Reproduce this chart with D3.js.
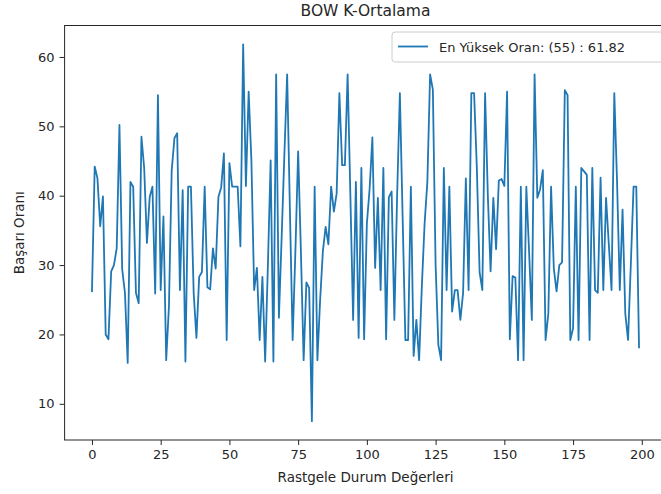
<!DOCTYPE html>
<html>
<head>
<meta charset="utf-8">
<style>
  body { margin: 0; background: #fff; overflow: hidden; }
  text { font-family: "DejaVu Sans", sans-serif; fill: #262626; }
  .axis path, .axis line { stroke: #262626; }
</style>
</head>
<body>
<div id="my_dataviz"></div>
<script src="https://cdn.jsdelivr.net/npm/d3@7/dist/d3.min.js"></script>
<script>

// texts
var title = "BOW K-Ortalama";
var xLabel = "Rastgele Durum Değerleri";
var yLabel = "Başarı Oranı";
var legendLabel = "En Yüksek Oran: (55) : 61.82";

// tick labels
var xTicks = [0, 25, 50, 75, 100, 125, 150, 175, 200];
var yTicks = [10, 20, 30, 40, 50, 60];

// success rate for each random state 0..199
var rates = [
  26.1, 44.2, 42.5, 35.6, 39.9, 20.0, 19.3, 29.1, 30.0, 32.4,
  50.2, 29.4, 26.0, 15.9, 42.0, 41.3, 26.0, 24.5, 48.5, 44.0,
  33.2, 39.8, 41.3, 25.9, 54.5, 26.4, 37.0, 16.3, 24.0, 43.6,
  48.3, 49.0, 26.4, 40.8, 16.1, 41.3, 41.3, 26.0, 19.5, 28.3,
  29.0, 41.3, 26.8, 26.5, 32.4, 29.5, 39.8, 41.2, 46.1, 19.2,
  44.7, 41.3, 41.3, 41.3, 32.7, 61.82, 41.4, 55.0, 45.0, 26.4,
  29.6, 19.2, 28.3, 16.1, 30.0, 45.1, 16.1, 57.5, 22.4, 34.0,
  46.0, 57.5, 38.0, 19.2, 32.0, 46.4, 32.0, 16.3, 27.5, 26.7,
  7.5, 41.3, 16.3, 25.0, 32.0, 35.5, 33.0, 41.3, 37.7, 40.3,
  54.8, 44.4, 44.4, 57.5, 40.0, 22.1, 42.0, 19.5, 44.0, 19.3,
  36.0, 41.0, 48.4, 29.6, 39.7, 26.4, 44.0, 19.3, 39.8, 40.6,
  22.1, 40.0, 54.8, 37.0, 19.2, 19.2, 41.3, 16.9, 22.1, 16.3,
  27.0, 36.0, 42.0, 57.5, 55.3, 30.0, 18.5, 16.3, 44.0, 26.4,
  41.3, 23.3, 26.4, 26.4, 22.1, 26.0, 42.5, 26.4, 54.8, 54.8,
  44.0, 29.0, 26.4, 54.8, 40.0, 29.1, 39.7, 32.3, 42.2, 42.4,
  41.4, 55.0, 19.3, 28.4, 28.2, 16.3, 41.3, 16.3, 41.3, 32.0,
  22.1, 57.5, 39.7, 40.9, 43.7, 19.2, 23.0, 41.3, 29.5, 26.2,
  30.0, 30.4, 55.2, 54.5, 19.2, 20.9, 41.3, 19.2, 44.0, 43.5,
  43.0, 19.2, 44.0, 26.4, 26.0, 42.6, 26.4, 39.7, 33.0, 26.4,
  54.8, 42.0, 26.4, 38.0, 23.0, 19.2, 30.0, 41.3, 41.3, 18.0
];

// size of the picture and of the plot area
var W = 661, H = 494;
var margin = {top: 25.5, right: -5.4, bottom: 54, left: 64.6},
    width = W - margin.left - margin.right,
    height = H - margin.top - margin.bottom;

var svg = d3.select("#my_dataviz")
  .append("svg")
    .attr("width", W)
    .attr("height", H);

var g = svg.append("g")
    .attr("transform", "translate(" + margin.left + "," + margin.top + ")");

// matplotlib style 5% padding around the data
var n = rates.length;
var xPad = (n - 1) * 0.05;
var yMin = d3.min(rates), yMax = d3.max(rates);
var yPad = (yMax - yMin) * 0.05;

var x = d3.scaleLinear()
  .domain([-xPad, n - 1 + xPad])
  .range([0, width]);

var y = d3.scaleLinear()
  .domain([yMin - yPad, yMax + yPad])
  .range([height, 0]);

// X axis
var xAxis = g.append("g")
  .attr("class", "axis")
  .attr("transform", "translate(0," + height + ")")
  .call(d3.axisBottom(x).tickValues(xTicks).tickSize(5).tickPadding(5));
xAxis.select(".domain").remove();
xAxis.selectAll("text").style("font-size", "13px").attr("fill", "#262626");

// Y axis
var yAxis = g.append("g")
  .attr("class", "axis")
  .call(d3.axisLeft(y).tickValues(yTicks).tickSize(5).tickPadding(5));
yAxis.select(".domain").remove();
yAxis.selectAll("text").style("font-size", "13px").attr("fill", "#262626");

// frame
g.append("rect")
  .attr("x", 0).attr("y", 0)
  .attr("width", width).attr("height", height)
  .attr("fill", "none")
  .attr("stroke", "#262626")
  .attr("stroke-width", 1);

// the line
var line = d3.line()
  .x(function(d, i) { return x(i); })
  .y(function(d) { return y(d); });

g.append("path")
  .datum(rates)
  .attr("fill", "none")
  .attr("stroke", "#1f77b4")
  .attr("stroke-width", 1.8)
  .attr("stroke-linejoin", "round")
  .attr("d", line);

// title and labels
svg.append("text")
  .attr("x", margin.left + width / 2)
  .attr("y", 16)
  .attr("text-anchor", "middle")
  .style("font-size", "15.5px")
  .text(title);

svg.append("text")
  .attr("x", margin.left + width / 2)
  .attr("y", 482)
  .attr("text-anchor", "middle")
  .style("font-size", "13.5px")
  .text(xLabel);

svg.append("text")
  .attr("transform", "translate(24," + (margin.top + height / 2) + ") rotate(-90)")
  .attr("text-anchor", "middle")
  .style("font-size", "13.5px")
  .text(yLabel);

// legend
var lg = svg.append("g").attr("transform", "translate(392,32)");
lg.append("rect")
  .attr("width", 275).attr("height", 30)
  .attr("rx", 3)
  .attr("fill", "#fff")
  .attr("fill-opacity", 0.8)
  .attr("stroke", "#cccccc");
lg.append("line")
  .attr("x1", 6).attr("x2", 36)
  .attr("y1", 14.5).attr("y2", 14.5)
  .attr("stroke", "#1f77b4")
  .attr("stroke-width", 1.8);
lg.append("text")
  .attr("x", 47).attr("y", 19.5)
  .style("font-size", "13px")
  .text(legendLabel);

</script>
</body>
</html>
